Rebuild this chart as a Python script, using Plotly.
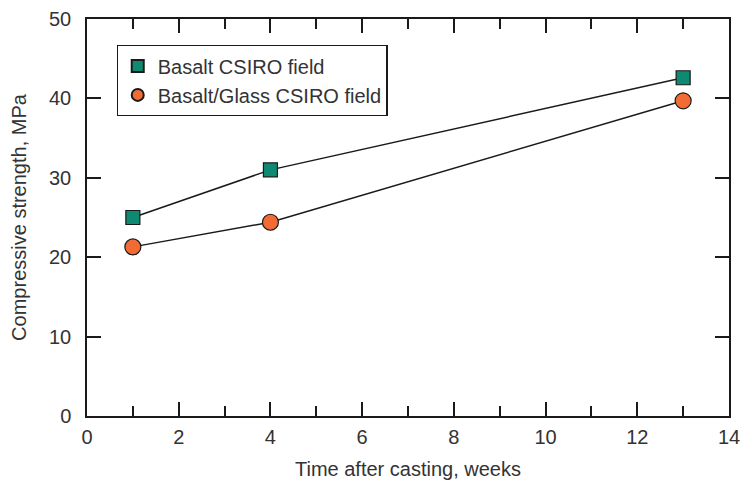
import plotly.graph_objects as go

# Compressive strength development of field-cast concrete
weeks = [1, 4, 13]
basalt = [25.0, 31.0, 42.6]
basalt_glass = [21.3, 24.4, 39.7]

x_ticks = [0, 2, 4, 6, 8, 10, 12, 14]
y_ticks = [0, 10, 20, 30, 40, 50]

font_family = "Liberation Sans, Arial, sans-serif"
text_color = "#333333"
edge = "#1a1a1a"

series = [
    ("Basalt CSIRO field", basalt, dict(symbol="square", size=14, color="#0e8a72")),
    ("Basalt/Glass CSIRO field", basalt_glass, dict(symbol="circle", size=16, color="#f26b35")),
]

fig = go.Figure()
for name, values, mk in series:
    # connected data series
    fig.add_trace(go.Scatter(
        x=weeks, y=values, mode="lines+markers", name=name, showlegend=False,
        line=dict(color=edge, width=1.5),
        marker=dict(**mk, line=dict(color=edge, width=1.2)),
    ))
for name, values, mk in series:
    # marker-only legend entries
    fig.add_trace(go.Scatter(
        x=[None], y=[None], mode="markers", name=name,
        marker=dict(**mk, line=dict(color=edge, width=1.2)),
    ))

axis_common = dict(
    showgrid=False, zeroline=False, showline=True, linecolor=edge,
    linewidth=1.5, mirror="ticks", ticks="inside", ticklen=14,
    tickwidth=1.5, tickcolor=edge, automargin=False,
    tickfont=dict(size=20, color=text_color, family=font_family),
)

fig.update_xaxes(
    range=[0, 14], tickvals=x_ticks, ticktext=[str(v) for v in x_ticks],
    title=dict(text="Time after casting, weeks", standoff=15,
               font=dict(size=20, color=text_color, family=font_family)),
    minor=dict(dtick=1, ticks="inside", ticklen=10, tickwidth=1.5,
               tickcolor=edge, showgrid=False),
    ticklabelstandoff=2,
    **axis_common,
)
fig.update_yaxes(
    range=[0, 50], tickvals=y_ticks, ticktext=[str(v) for v in y_ticks],
    title=dict(text="Compressive strength, MPa", standoff=17,
               font=dict(size=20, color=text_color, family=font_family)),
    ticklabelstandoff=10,
    **axis_common,
)

fig.update_layout(
    width=746, height=480,
    margin=dict(l=87, r=17, t=19, b=64),
    plot_bgcolor="white", paper_bgcolor="white",
    font=dict(family=font_family, color=text_color),
    legend=dict(
        x=0.046, y=0.934, xanchor="left", yanchor="top",
        bordercolor=edge, borderwidth=1.2, bgcolor="white",
        font=dict(size=20, color=text_color, family=font_family),
        itemsizing="constant", tracegroupgap=0,
    ),
)

fig.write_html("out.html")
